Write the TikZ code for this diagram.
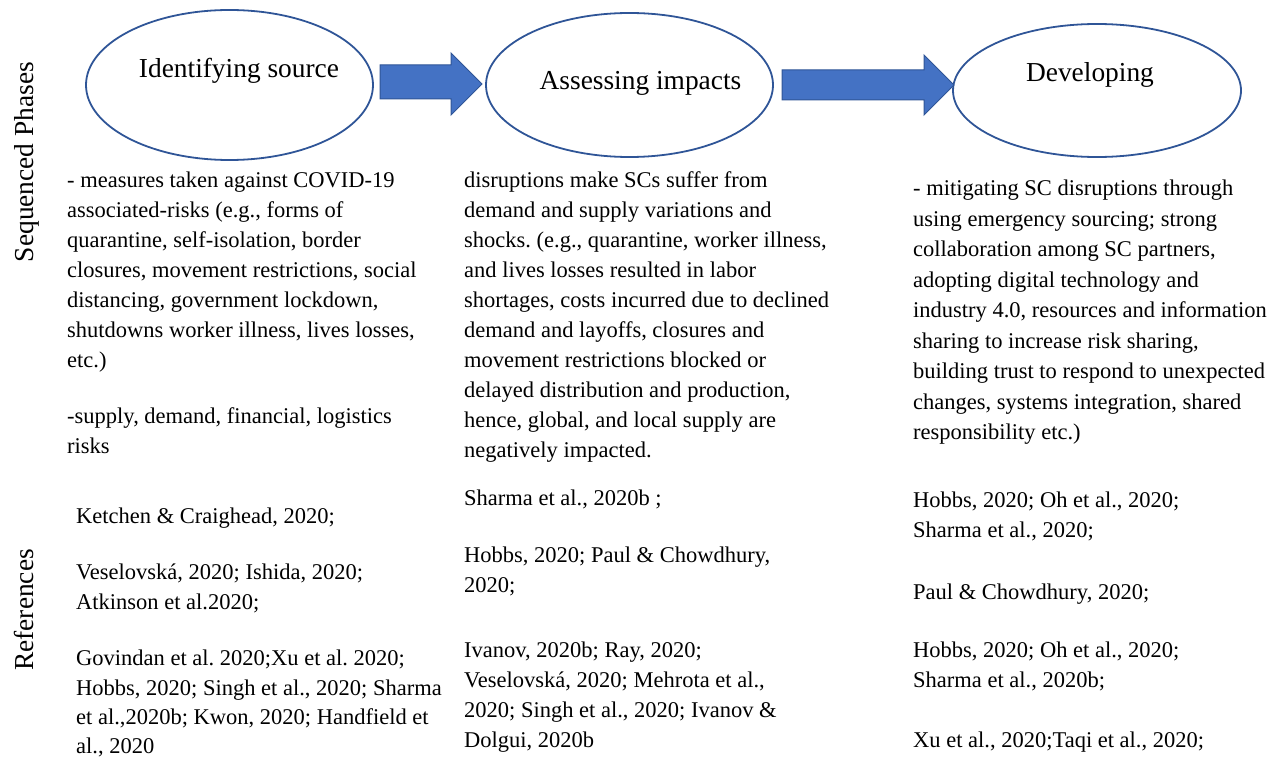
\documentclass[tikz,border=0pt]{standalone}
\usepackage{fontspec}
\setmainfont{Liberation Serif}
\usetikzlibrary{shapes.geometric}
\frenchspacing
\definecolor{edgeblue}{HTML}{2F5597}
\definecolor{fillblue}{HTML}{4472C4}
\tikzset{
  phase/.style={draw=edgeblue, line width=1.8pt, ellipse, inner sep=0pt},
  phaselabel/.style={font=\fontsize{27.4}{32}\selectfont, anchor=base, inner sep=0pt},
  sidelabel/.style={font=\fontsize{27.4}{32}\selectfont, anchor=base, rotate=90, inner sep=0pt},
  blockarrow/.style={fill=fillblue, draw=edgeblue, line width=1pt, line join=miter},
  txt/.style={anchor=north west, inner sep=0pt, align=left},
}
\newcommand{\fs}[1]{\fontsize{22.5}{#1}\selectfont\frenchspacing}
\begin{document}
\begin{tikzpicture}[x=1pt, y=-1pt]
\useasboundingbox (0,0) rectangle (1279,759);
% phases
\node[phase, minimum width=287pt, minimum height=150pt] (e1) at (229.5,85) {};
\node[phase, minimum width=287pt, minimum height=144pt] (e2) at (629.5,85) {};
\node[phase, minimum width=288pt, minimum height=133pt] (e3) at (1097,90.5) {};
\node[phaselabel] (l1) at (239,78) {Identifying source};
\node[phaselabel] (l2) at (640.5,90) {Assessing impacts};
\node[phaselabel] (l3) at (1090,82) {Developing};
% block arrows
\draw[blockarrow] (380,65) -- (451,65) -- (451,53) -- (482,84) -- (451,115) -- (451,99) -- (380,99) -- cycle;
\draw[blockarrow] (782,70) -- (924,70) -- (924,55) -- (954,85) -- (924,115) -- (924,100) -- (782,100) -- cycle;
% side labels
\node[sidelabel] (s1) at (33,162) {Sequenced Phases};
\node[sidelabel] (s2) at (33,610) {References};
% column 1 body
\node[txt, font=\fs{30}] (c1a) at (67,166) {\strut- measures taken against COVID-19\\associated-risks (e.g., forms of\\quarantine, self-isolation, border\\closures, movement restrictions, social\\distancing, government lockdown,\\shutdowns worker illness, lives losses,\\etc.)};
\node[txt, font=\fs{30}] (c1b) at (67,402) {\strut-supply, demand, financial, logistics\\risks};
% column 2 body
\node[txt, font=\fs{30}] (c2a) at (464,166) {\strut disruptions make SCs suffer from\\demand and supply variations and\\shocks. (e.g., quarantine, worker illness,\\and lives losses resulted in labor\\shortages, costs incurred due to declined\\demand and layoffs, closures and\\movement restrictions blocked or\\delayed distribution and production,\\hence, global, and local supply are\\negatively impacted.};
% column 3 body
\node[txt, font=\fs{30.5}] (c3a) at (913,174) {\strut- mitigating SC disruptions through\\using emergency sourcing; strong\\collaboration among SC partners,\\adopting digital technology and\\industry 4.0, resources and information\\sharing to increase risk sharing,\\building trust to respond to unexpected\\changes, systems integration, shared\\responsibility etc.)};
% references column 1
\node[txt, font=\fs{29.3}] (r1a) at (76,503) {\strut Ketchen \& Craighead, 2020;};
\node[txt, font=\fs{29.3}] (r1b) at (76,559) {\strut Veselovsk\'a, 2020; Ishida, 2020;\\Atkinson et al.2020;};
\node[txt, font=\fs{29.3}] (r1c) at (76,645) {\strut Govindan et al. 2020;Xu et al. 2020;\\Hobbs, 2020; Singh et al., 2020; Sharma\\et al.,2020b; Kwon, 2020; Handfield et\\al., 2020};
% references column 2
\node[txt, font=\fs{30}] (r2a) at (464,484) {\strut Sharma et al., 2020b ;};
\node[txt, font=\fs{30}] (r2b) at (464,541) {\strut Hobbs, 2020; Paul \& Chowdhury,\\2020;};
\node[txt, font=\fs{30}] (r2c) at (464,636) {\strut Ivanov, 2020b; Ray, 2020;\\Veselovsk\'a, 2020; Mehrota et al.,\\2020; Singh et al., 2020; Ivanov \&\\Dolgui, 2020b};
% references column 3
\node[txt, font=\fs{30}] (r3a) at (913,486) {\strut Hobbs, 2020; Oh et al., 2020;\\Sharma et al., 2020;};
\node[txt, font=\fs{30}] (r3b) at (913,578) {\strut Paul \& Chowdhury, 2020;};
\node[txt, font=\fs{30}] (r3c) at (913,636) {\strut Hobbs, 2020; Oh et al., 2020;\\Sharma et al., 2020b;};
\node[txt, font=\fs{30}] (r3d) at (913,726) {\strut Xu et al., 2020;Taqi et al., 2020;};
\end{tikzpicture}
\end{document}
